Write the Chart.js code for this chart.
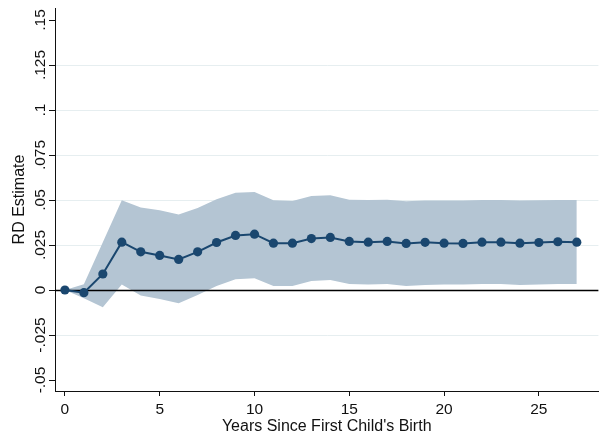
<!DOCTYPE html>
<html>
<head>
<meta charset="utf-8">
<script src="https://cdn.jsdelivr.net/npm/chart.js@4.4.1/dist/chart.umd.min.js"></script>
<style>
  html, body { margin: 0; padding: 0; background: #ffffff; }
  #wrap { width: 603px; height: 434px; position: relative; }
</style>
</head>
<body>
<div id="wrap"><canvas id="c"></canvas></div>
<script>
// ---- data ----
const years = [0,1,2,3,4,5,6,7,8,9,10,11,12,13,14,15,16,17,18,19,20,21,22,23,24,25,26,27];
const estimate = [0, -0.0015, 0.0089, 0.0266, 0.0212, 0.0192, 0.0170, 0.0212, 0.0264, 0.0303,
  0.0310, 0.0260, 0.0260, 0.0286, 0.0292, 0.0270, 0.0266, 0.0270, 0.0259, 0.0265,
  0.0260, 0.0259, 0.0266, 0.0266, 0.0260, 0.0264, 0.0268, 0.0266];
const ciUpper = [0, 0.0032, 0.0265, 0.0499, 0.0458, 0.0443, 0.0419, 0.0456, 0.0504, 0.0540,
  0.0545, 0.0499, 0.0495, 0.0522, 0.0526, 0.0502, 0.0500, 0.0502, 0.0493, 0.0497,
  0.0497, 0.0497, 0.0500, 0.0500, 0.0497, 0.0498, 0.0500, 0.0500];
const ciLower = [0, -0.0046, -0.0096, 0.0030, -0.0031, -0.0050, -0.0074, -0.0028, 0.0022, 0.0060,
  0.0065, 0.0022, 0.0022, 0.0050, 0.0055, 0.0033, 0.0031, 0.0033, 0.0022, 0.0028,
  0.0031, 0.0030, 0.0033, 0.0033, 0.0028, 0.0031, 0.0033, 0.0033];
const xTickValues = [0, 5, 10, 15, 20, 25];
const yTickValues = [-0.05, -0.025, 0, 0.025, 0.05, 0.075, 0.1, 0.125, 0.15];
const yTickLabels = ['-.05', '-.025', '0', '.025', '.05', '.075', '.1', '.125', '.15'];
const xTitle = "Years Since First Child's Birth";
const yTitle = 'RD Estimate';

// ---- styling ----
const FONT = "'Liberation Sans', Arial, Helvetica, sans-serif";
const NAVY = '#1a476f';
const BAND = '#b4c5d3';
const GRID = '#e6eef0';
const AXIS = '#111111';

const toPts = (ys) => years.map((x, i) => ({ x: x, y: ys[i] }));

const yLabelPlugin = {
  id: 'yLabels',
  afterDraw(chart) {
    const ys = chart.scales.y;
    const ctx = chart.ctx;
    ctx.save();
    ctx.fillStyle = AXIS;
    ctx.font = '15.5px ' + FONT;
    ctx.textAlign = 'center';
    ctx.textBaseline = 'alphabetic';
    yTickValues.forEach((v, i) => {
      const py = ys.getPixelForValue(v);
      ctx.save();
      ctx.translate(ys.right - 10, py);
      ctx.rotate(-Math.PI / 2);
      ctx.fillText(yTickLabels[i], 0, 0);
      ctx.restore();
    });
    ctx.restore();
  }
};

const zeroLinePlugin = {
  id: 'zeroLine',
  beforeDatasetDraw(chart, args) {
    if (args.index !== 0) return;
    const ys = chart.scales.y;
    const a = chart.chartArea;
    const py = Math.round(ys.getPixelForValue(0)) + 0.5;
    const ctx = chart.ctx;
    ctx.save();
    ctx.strokeStyle = '#000000';
    ctx.lineWidth = 1.3;
    ctx.beginPath();
    ctx.moveTo(a.left, py);
    ctx.lineTo(a.right, py);
    ctx.stroke();
    ctx.restore();
  }
};

const bgPlugin = {
  id: 'bg',
  beforeDraw(chart) {
    const ctx = chart.ctx;
    ctx.save();
    ctx.fillStyle = '#ffffff';
    ctx.fillRect(0, 0, chart.width, chart.height);
    ctx.restore();
  }
};

new Chart(document.getElementById('c'), {
  type: 'line',
  data: {
    datasets: [
      {
        label: 'RD Estimate',
        data: toPts(estimate),
        borderColor: NAVY,
        backgroundColor: NAVY,
        borderWidth: 2,
        pointRadius: 4.6,
        pointBorderWidth: 0,
        pointBackgroundColor: NAVY,
        tension: 0,
        fill: false,
        clip: false
      },
      {
        label: 'upper',
        data: toPts(ciUpper),
        borderWidth: 0,
        borderColor: BAND,
        backgroundColor: BAND,
        pointRadius: 0,
        tension: 0,
        fill: '+1'
      },
      {
        label: 'lower',
        data: toPts(ciLower),
        borderWidth: 0,
        borderColor: BAND,
        backgroundColor: BAND,
        pointRadius: 0,
        tension: 0,
        fill: false
      }
    ]
  },
  options: {
    responsive: true,
    maintainAspectRatio: false,
    animation: false,
    devicePixelRatio: 1,
    layout: { padding: { top: 8, left: 0, right: 0, bottom: 0 } },
    plugins: { legend: { display: false }, tooltip: { enabled: false } },
    scales: {
      x: {
        type: 'linear',
        min: -0.523,
        max: 28.14,
        afterBuildTicks(scale) { scale.ticks = xTickValues.map(v => ({ value: v })); },
        afterFit(scale) { scale.height = 43; },
        ticks: {
          color: AXIS,
          font: { family: FONT, size: 15.5 },
          padding: 4,
          maxRotation: 0,
          autoSkip: false,
          callback: (v) => String(v)
        },
        grid: { drawOnChartArea: false, drawTicks: true, tickLength: 5, tickColor: AXIS, tickWidth: 1 },
        border: { display: true, color: AXIS, width: 1 },
        title: {
          display: true,
          text: xTitle,
          color: AXIS,
          font: { family: FONT, size: 16, lineHeight: 1 },
          padding: { top: 0, bottom: -1 }
        }
      },
      y: {
        type: 'linear',
        min: -0.0561,
        max: 0.15667,
        afterBuildTicks(scale) { scale.ticks = yTickValues.map(v => ({ value: v })); },
        afterFit(scale) { scale.width = 55; },
        ticks: { display: false },
        grid: {
          drawTicks: true,
          tickLength: 6,
          tickColor: AXIS,
          tickWidth: 1,
          lineWidth: 1,
          color: (ctx) => {
            const v = ctx.tick ? ctx.tick.value : null;
            if (v === 0 || v === yTickValues[0] || v === yTickValues[yTickValues.length - 1]) return 'rgba(0,0,0,0)';
            return GRID;
          }
        },
        border: { display: true, color: AXIS, width: 1 },
        title: {
          display: true,
          text: yTitle,
          color: AXIS,
          font: { family: FONT, size: 16, lineHeight: 1 },
          padding: { top: 11.5, bottom: 0 }
        }
      }
    }
  },
  plugins: [bgPlugin, zeroLinePlugin, yLabelPlugin]
});
</script>
</body>
</html>
